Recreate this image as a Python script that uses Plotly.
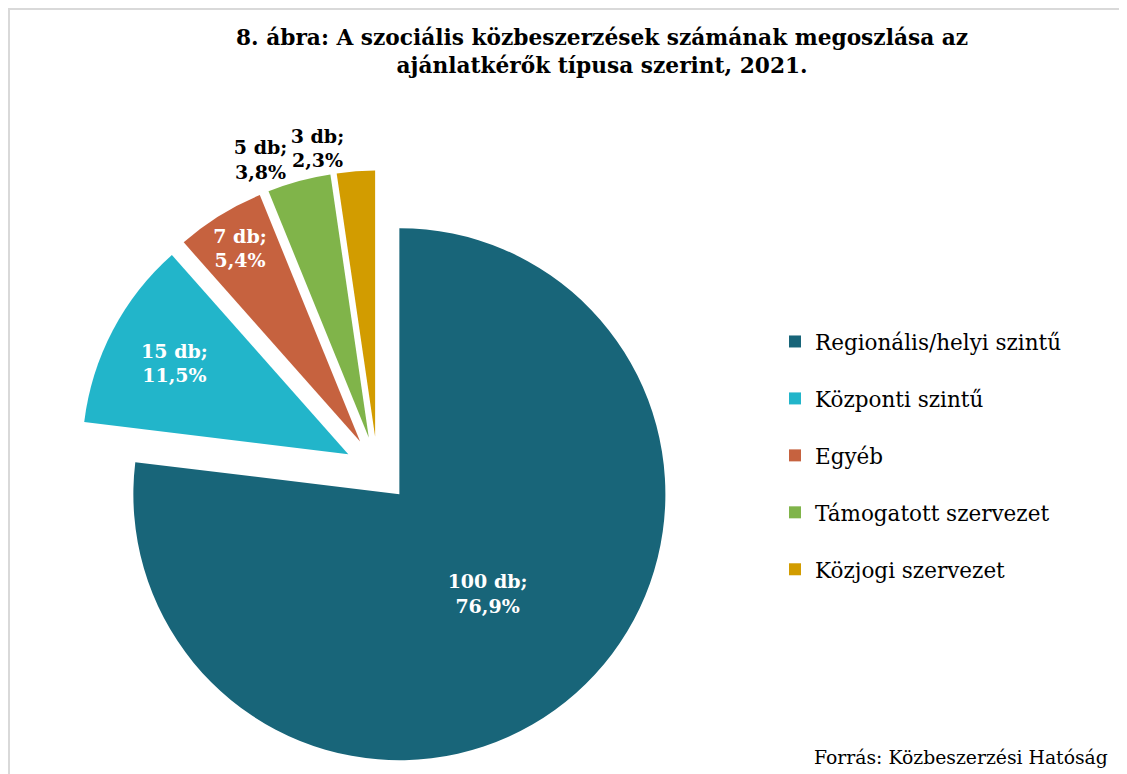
import plotly.graph_objects as go

# ---- data ----
categories = ["Regionális/helyi szintű", "Központi szintű", "Egyéb",
              "Támogatott szervezet", "Közjogi szervezet"]
counts = [100, 15, 7, 5, 3]
title_lines = ["8. ábra: A szociális közbeszerzések számának megoszlása az",
               "ajánlatkérők típusa szerint, 2021."]
source_text = "Forrás: Közbeszerzési Hatóság"

# ---- style ----
slice_colors = ["#186579", "#22b5ca", "#c6623f", "#80b44a", "#d29c00"]
OFF = 8                      # page body margin in the viewer
W, H = 1127 - OFF, 774 - OFF
FONT = "DejaVu Serif"
LABEL = "%{value} db;<br>%{percent:.1%}"
PULL = 0.124


def px(x):
    return (x - OFF) / W


def py(y):
    return 1 - (y - OFF) / H


# pie box (screen pixels): centre (377.5, 469.5), side 598
PIE_X = [px(78.5), px(676.5)]
PIE_Y = [py(768.5), py(170.5)]

# main pie: inside labels + the last slice's outside label
pos_main = ["inside", "inside", "inside", "none", "outside"]
tpl_main = [LABEL if p != "none" else "" for p in pos_main]
# transparent overlay pie carrying the other outside label, so the two
# outside labels are laid out independently (side by side, as in the original)
pos_over = ["none", "none", "none", "outside", "none"]
tpl_over = [LABEL if p != "none" else "" for p in pos_over]

fig = go.Figure()
fig.add_trace(go.Pie(
    labels=categories, values=counts, sort=False, direction="clockwise", rotation=0,
    pull=[PULL] * len(counts),
    marker=dict(colors=slice_colors, line=dict(width=0)),
    texttemplate=tpl_main, textposition=pos_main,
    insidetextorientation="horizontal",
    insidetextfont=dict(color="white", size=19, family=FONT, weight="bold"),
    outsidetextfont=dict(color="black", size=19, family=FONT, weight="bold"),
    domain=dict(x=PIE_X, y=PIE_Y),
    showlegend=False,
))
fig.add_trace(go.Pie(
    labels=categories, values=counts, sort=False, direction="clockwise", rotation=0,
    pull=[PULL] * len(counts),
    marker=dict(colors=["rgba(0,0,0,0)"] * len(counts), line=dict(width=0)),
    texttemplate=tpl_over, textposition=pos_over,
    outsidetextfont=dict(color="black", size=19, family=FONT, weight="bold"),
    domain=dict(x=PIE_X, y=PIE_Y),
    showlegend=False, hoverinfo="skip",
))

for cat, col in zip(categories, slice_colors):
    fig.add_trace(go.Scatter(
        x=[None], y=[None], mode="markers", name=cat, legendgroup=cat,
        marker=dict(symbol="square", size=12, color=col), showlegend=True,
        hoverinfo="skip",
    ))

fig.update_layout(
    template="none",
    width=W, height=H,
    margin=dict(l=0, r=0, t=0, b=0, pad=0, autoexpand=False),
    paper_bgcolor="white", plot_bgcolor="white",
    separators=", ",
    font=dict(family=FONT, color="black"),
    xaxis=dict(visible=False, automargin=False),
    yaxis=dict(visible=False, automargin=False),
    uniformtext=dict(minsize=19, mode="show"),
    legend=dict(
        x=px(775), xanchor="left", y=py(321), yanchor="top",
        traceorder="grouped", tracegroupgap=26,
        font=dict(size=21.5, family=FONT, color="black"),
        bgcolor="rgba(0,0,0,0)", borderwidth=0,
    ),
    annotations=[
        dict(text="<br>".join(title_lines), x=px(602), y=py(52),
             xref="paper", yref="paper", xanchor="center", yanchor="middle",
             align="center", showarrow=False,
             font=dict(size=21.7, family=FONT, color="black", weight="bold")),
        dict(text=source_text, x=px(1110), y=py(757), xref="paper", yref="paper",
             xanchor="right", yanchor="middle", showarrow=False,
             font=dict(size=18.8, family=FONT, color="black")),
    ],
    shapes=[
        dict(type="line", xref="paper", yref="paper",
             x0=px(8), x1=1.0, y0=py(9), y1=py(9),
             line=dict(color="#d9d9d9", width=2), layer="below"),
        dict(type="line", xref="paper", yref="paper",
             x0=px(9), x1=px(9), y0=0.0, y1=py(9),
             line=dict(color="#d9d9d9", width=2), layer="below"),
    ],
)

fig.write_html("out.html")
